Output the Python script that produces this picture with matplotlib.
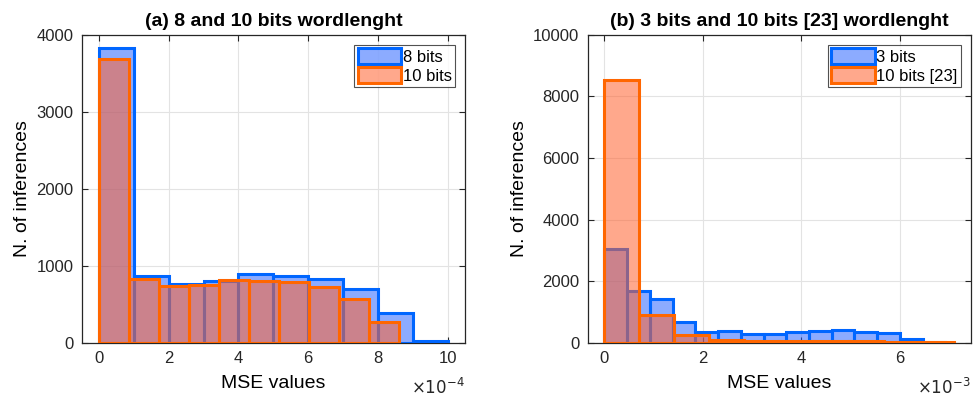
import matplotlib.pyplot as plt
import numpy as np

plt.rcParams['font.family'] = ['Liberation Sans', 'DejaVu Sans']

# (a) MSE histograms, x in units of 1e-4
edges_8 = [0, 1, 2, 3, 4, 5, 6, 7, 8, 9, 10]
counts_8 = [3830, 873, 761, 804, 891, 869, 830, 700, 389, 20]
edges_10 = [0, 0.86, 1.72, 2.58, 3.44, 4.30, 5.16, 6.02, 6.88, 7.74, 8.60]
counts_10 = [3683, 834, 744, 752, 821, 800, 791, 722, 567, 272]

# (b) MSE histograms, x in units of 1e-3
edges_3 = [0, 0.462, 0.924, 1.386, 1.848, 2.31, 2.772, 3.234, 3.696, 4.158,
           4.62, 5.082, 5.544, 6.006, 6.468, 6.93]
counts_3 = [3049, 1697, 1438, 692, 368, 400, 292, 281, 346, 378, 422, 346, 314, 130, 40]
edges_10r = [0, 0.711, 1.422, 2.133, 2.844, 3.555, 4.266, 4.977, 5.688, 6.399, 7.11]
counts_10r = [8530, 919, 259, 97, 66, 50, 50, 50, 40, 30]

blue_edge = '#0066ff'
blue_face = (0.1, 0.35, 1.0, 0.5)
orange_edge = '#ff6600'
orange_face = (1.0, 0.38, 0.18, 0.55)

fig = plt.figure(figsize=(9.77, 3.99), dpi=100)
ax1 = fig.add_axes([0.0836, 0.1404, 0.3923, 0.7727])
ax2 = fig.add_axes([0.6015, 0.1404, 0.3923, 0.7727])


def hist_bars(ax, edges, counts, face, edge, label):
    e = np.array(edges)
    ax.bar(e[:-1], counts, width=np.diff(e), align='edge', color=face,
           edgecolor=edge, linewidth=2.2, label=label, zorder=3)


hist_bars(ax1, edges_8, counts_8, blue_face, blue_edge, '8 bits')
hist_bars(ax1, edges_10, counts_10, orange_face, orange_edge, '10 bits')
hist_bars(ax2, edges_3, counts_3, blue_face, blue_edge, '3 bits')
hist_bars(ax2, edges_10r, counts_10r, orange_face, orange_edge, '10 bits [23]')

ax1.set_xlim(-0.5, 10.5)
ax1.set_ylim(0, 4000)
ax1.set_xticks([0, 2, 4, 6, 8, 10])
ax1.set_yticks([0, 1000, 2000, 3000, 4000])
ax1.set_title('(a) 8 and 10 bits wordlenght', fontsize=14, fontweight='bold', pad=6)

ax2.set_xlim(-0.34, 7.45)
ax2.set_ylim(0, 10000)
ax2.set_xticks([0, 2, 4, 6])
ax2.set_yticks([0, 2000, 4000, 6000, 8000, 10000])
ax2.set_title('(b) 3 bits and 10 bits [23] wordlenght', fontsize=14, fontweight='bold', pad=6)

for ax, mult in [(ax1, '$\\times10^{-4}$'), (ax2, '$\\times10^{-3}$')]:
    ax.grid(True, color='#e3e3e3', linewidth=0.8, zorder=0)
    ax.set_axisbelow(True)
    ax.tick_params(direction='in', top=True, right=True, labelsize=12,
                   length=4, width=0.8, colors='#262626', pad=6)
    for s in ax.spines.values():
        s.set_color('#262626')
        s.set_linewidth(0.9)
    ax.set_xlabel('MSE values', fontsize=14, labelpad=6)
    ax.set_ylabel('N. of inferences', fontsize=14, labelpad=4)
    ax.text(1.0, -0.11, mult, transform=ax.transAxes, ha='right', va='top',
            fontsize=12, color='#262626')
    leg = ax.legend(loc='upper right', fontsize=12, frameon=True, fancybox=False,
                    handlelength=2.6, handleheight=1.1, handletextpad=0.1,
                    borderpad=0.2, borderaxespad=0.6, labelspacing=0.15)
    leg.get_frame().set_edgecolor('#262626')
    leg.get_frame().set_linewidth(0.8)

fig.savefig('out.png', dpi=100)
